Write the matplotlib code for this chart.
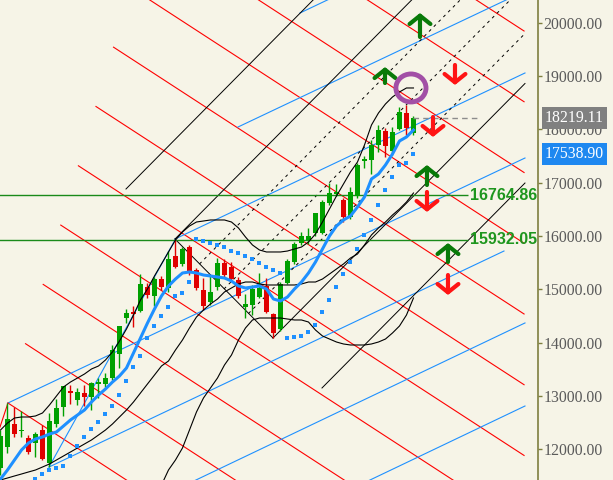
import numpy as np
import matplotlib
matplotlib.use('Agg')
import matplotlib.pyplot as plt
import matplotlib.transforms as mtransforms
from matplotlib.patches import Ellipse

plt.rcParams['font.family'] = ['Liberation Serif', 'DejaVu Serif']

# ---- daily candles ----
opens = [11651, 12044, 12476, 12344, 12213, 12119, 12363, 11744, 12476, 12794,
         13094, 12926, 13057, 12982, 13226, 13226, 13338, 13788, 14463, 14576,
         14594, 15044, 14876, 15194, 15026, 15626, 15476, 15794, 15363, 14988,
         14763, 15044, 15494, 15419, 15176, 14669, 14707, 14857, 15063, 14538,
         14257, 15119, 15513, 15869, 15926, 16057, 16057, 16619, 16788, 16676,
         16357, 16751, 17407, 17426, 17707, 17969, 17594, 18007, 18307, 17932]
highs = [12363, 12869, 12794, 12719, 12269, 12326, 12457, 12682, 12944, 13188,
         13207, 13151, 13207, 13263, 13338, 13432, 13957, 14313, 14630, 14688,
         15288, 15119, 15232, 15251, 15719, 15926, 15794, 15832, 15401, 15213,
         15269, 15588, 15569, 15513, 15232, 14913, 15082, 15307, 15213, 14557,
         15138, 15569, 15888, 16076, 16151, 16432, 16676, 16994, 16976, 16713,
         16919, 17369, 17501, 17801, 18082, 18026, 18044, 18419, 18457, 18251]
lows = [11519, 11932, 12232, 12232, 11913, 11857, 11801, 11669, 12419, 12626,
        12851, 12832, 12813, 12738, 12963, 13169, 13300, 13526, 14369, 14294,
        14576, 14838, 14688, 14988, 14951, 15401, 15438, 15269, 14988, 14613,
        14707, 14988, 15232, 15176, 14838, 14463, 14519, 14838, 14557, 14088,
        14219, 15101, 15476, 15832, 15851, 16001, 16038, 16582, 16751, 16263,
        16319, 16713, 17276, 17163, 17576, 17482, 17519, 17988, 17894, 17894]
closes = [12251, 12569, 12288, 12363, 11951, 12288, 11819, 12532, 12776, 13188,
          13057, 13076, 12982, 13244, 13263, 13338, 13863, 14313, 14557, 14538,
          15101, 14894, 15194, 15044, 15569, 15419, 15757, 15307, 15026, 14688,
          14951, 15494, 15269, 15194, 14876, 14726, 15007, 15026, 14576, 14182,
          15101, 15532, 15851, 16001, 16001, 16432, 16638, 16807, 16826, 16357,
          16826, 17332, 17444, 17707, 17988, 17688, 17951, 18326, 18026, 18219.11]

# fast moving average (thick blue)
ma_fast = [11444, 11613, 11801, 11988, 12119, 12194, 12232, 12288, 12326, 12438,
           12551, 12644, 12738, 12888, 13019, 13132, 13263, 13376, 13526, 13807,
           14088, 14369, 14632, 14876, 15063, 15194, 15307, 15326, 15307, 15269,
           15251, 15232, 15213, 15157, 15063, 15026, 15044, 15063, 15007, 14819,
           14782, 14857, 15007, 15138, 15307, 15513, 15757, 16001, 16188, 16301,
           16376, 16544, 16732, 17070, 17163, 17332, 17538, 17782, 17857, 17988]

# parabolic SAR dots
sar = [np.nan] * 5 + [
    11444, 11538, 11613, 11650, 11688, 11876, 12063, 12232, 12382, 12513,
    12663, 12813, 13019, 13282, 13544, 13751, 14088, 14313, 14501, 14669,
    14876, 14932, 15138,
    15944, 15907, 15869, 15832, 15794, 15719, 15682, 15626, 15569, 15494,
    15419, 15363, 15307,
    14088, 14107, 14126, 14201, 14332, 14576, 14801, 15044, 15288, 15513,
    15757, 16020, 16301, 16582, 16863, 17107, 17332, 17369, 17538.9]

# bollinger bands
bb_up = [12363, 12494, 12588, 12607, 12607, 12626, 12682, 12832, 13001, 13169,
         13263, 13338, 13413, 13507, 13563, 13676, 13826, 14032, 14257, 14519,
         14801, 15007, 15251, 15476, 15701, 15926, 16076, 16188, 16263, 16282,
         16301, 16301, 16301, 16263, 16151, 15982, 15832, 15738, 15701, 15701,
         15701, 15719, 15757, 15794, 15888, 16038, 16263, 16507, 16751, 16976,
         17201, 17388, 17707, 18082, 18307, 18476, 18607, 18701, 18776, 18776]
bb_mid = [11426, 11463, 11501, 11538, 11576, 11613, 11669, 11726, 11801, 11876,
          11951, 12026, 12101, 12176, 12269, 12363, 12476, 12607, 12738, 12888,
          13057, 13226, 13394, 13563, 13657, 13863, 14051, 14276, 14482, 14613,
          14726, 14819, 14951, 15026, 15101, 15138, 15138, 15101, 15082, 15082,
          15082, 15082, 15082, 15101, 15138, 15138, 15194, 15288, 15382, 15476,
          15588, 15663, 15832, 16020, 16151, 16263, 16394, 16507, 16638, 16807]
bb_low = [np.nan] * 22 + [
    11050, 11332, 11613, 11801, 12026, 12363, 12701, 12963, 13151, 13338,
    13582, 13769, 14051, 14276, 14426, 14463, 14463, 14463, 14463, 14444,
    14426, 14426, 14388, 14238, 14126, 14069, 14013, 13976, 13957, 13957,
    13957, 13976, 14013, 14069, 14182, 14313, 14519, 14838]

# red grid (falling lines)
red_start_bar = [1.07, 3.58, 6.10, 8.61, 11.13, 13.64, 16.15, 18.67, 21.18, 23.70, 26.21]
red_start_price = [12869, 13981, 15093, 16205, 17317, 18429, 19541, 20653, 21765, 22877, 23989]
red_end_bar = 74.8
red_end_price = [6580, 7906, 9233, 10559, 11886, 13212, 14538, 15865, 17191, 18518, 19844]

# blue grid (rising lines)
blue_b0 = [-10.93, -2.0, 6.93, 1.07, 24.93, 33.93, 42.79]
blue_p0 = [7432, 9551, 11669, 12869, 15944, 18044, 20182]
blue_b1 = [74.93, 74.93, 71.93, 74.93, 74.93, 74.93, 74.93]
blue_p1 = [12813, 14370, 15719, 17463, 19057, 20594, 22188]

# black channel lines (solid) and dashed inner lines
black_b0 = [17.93, 24.93, 38.93, 45.93]
black_p0 = [16882, 15944, 14088, 13151]
black_p1 = [24438, 22572, 18860, 16994]
dash_b0 = [28.43, 31.93, 35.43]
dash_p0 = [15476, 15007, 14547]
dash_p1 = [21657, 20707, 19797]
channel_end_bar = 74.93

# zigzag legs
zz_up_bar, zz_up_price = [6.93, 24.93], [11669, 15926]
zz_dn_bar, zz_dn_price = [24.93, 38.93], [15944, 14088]
zz_red_bar, zz_red_price = [-0.07, 1.07], [12419, 12869]

levels = [16764.86, 15932.05]
level_end_bar = 66.8
last_price = 18219.11
sar_last = 17538.90

# arrows: bar, base, tip
up_arrows = [(59.93, 19732, 20182), (54.93, 18869, 19169),
             (60.93, 16957, 17332), (63.93, 15513, 15869)]
down_arrows = [(64.93, 19207, 18832), (61.79, 18232, 17857),
               (60.93, 16826, 16451), (63.93, 15269, 14894)]

bg = '#f6f4e7'
fig = plt.figure(figsize=(6.13, 4.8), dpi=100, facecolor=bg)
ax = fig.add_axes([0, 0, 538 / 613, 1], facecolor=bg)
bars = np.arange(len(opens))

# grids
for sb, sp, ep in zip(red_start_bar, red_start_price, red_end_price):
    ax.plot([sb, red_end_bar], [sp, ep], color='#ff0000', lw=0.8, zorder=1)
for b0, p0, b1, p1 in zip(blue_b0, blue_p0, blue_b1, blue_p1):
    ax.plot([b0, b1], [p0, p1], color='#1e90ff', lw=0.8, zorder=1)
for b0, p0, p1 in zip(black_b0, black_p0, black_p1):
    ax.plot([b0, channel_end_bar], [p0, p1], color='black', lw=0.7, zorder=1)
for b0, p0, p1 in zip(dash_b0, dash_p0, dash_p1):
    ax.plot([b0, channel_end_bar], [p0, p1], color='black', lw=0.7,
            ls=(0, (3, 4)), zorder=1)

ax.plot(zz_up_bar, zz_up_price, color='#1e90ff', lw=0.8, zorder=1)
ax.plot(zz_dn_bar, zz_dn_price, color='black', lw=0.7, zorder=1)
ax.plot(zz_red_bar, zz_red_price, color='#ff0000', lw=0.8, zorder=1)

ax.hlines(levels, -1, level_end_bar, colors='#1a8a1a', lw=1, zorder=1)

# candles
o = np.array(opens); c = np.array(closes)
cols = np.where(c >= o, '#00a000', '#e00000')
ax.vlines(bars, lows, highs, colors=cols, lw=1, zorder=2)
ax.bar(bars, np.maximum(np.abs(c - o), 22), bottom=np.minimum(o, c),
       width=0.7, color=cols, linewidth=0, zorder=2.1)

# indicators
ax.plot(bars, bb_up, color='black', lw=0.8, zorder=3)
ax.plot(bars, bb_mid, color='black', lw=0.8, zorder=3)
ax.plot(bars, bb_low, color='black', lw=0.8, zorder=3)
ax.plot(bars, ma_fast, color='#1e90ff', lw=2.2, zorder=4)
ax.plot(bars, sar, ls='', marker='s', ms=2.2, mew=0, color='#1e90ff', zorder=4)

ax.plot([bars[-1], 68.5], [last_price, last_price], color='#8c8c8c', lw=1,
        ls=(0, (4, 3)), zorder=3)

for b, base, tip in up_arrows:
    ax.annotate('', xy=(b, tip), xytext=(b, base), zorder=5,
                arrowprops=dict(arrowstyle='->,head_length=0.6,head_width=0.75',
                                lw=3, color='#087a08', shrinkA=0, shrinkB=0))
for b, base, tip in down_arrows:
    ax.annotate('', xy=(b, tip), xytext=(b, base), zorder=5,
                arrowprops=dict(arrowstyle='->,head_length=0.6,head_width=0.75',
                                lw=3, color='#ff1414', shrinkA=0, shrinkB=0))

ax.add_patch(Ellipse((58.64, 18776), 4.3, 525, fill=False, lw=3.5,
                     ec='#a24fa6', zorder=5))

for lv in levels:
    ax.text(67.05, lv, f'{lv:.2f}', va='center', ha='left', color='#1e961e',
            fontsize=11.5, fontweight='bold', family='Liberation Sans', zorder=5)

ax.set_xlim(-0.07, 76.79)
ax.set_ylim(11425.6, 20425.6)
ax.set_xticks([])
ax.yaxis.tick_right()
ticks = np.arange(12000, 20001, 1000)
ax.set_yticks(ticks)
ax.set_yticklabels([f'{t:.2f}' for t in ticks])
ax.tick_params(axis='y', direction='out', length=2.9, width=1, color='#7f7f3f',
               pad=1, labelsize=11.3, labelcolor='#5a5a5a')
for s in ['top', 'left', 'bottom']:
    ax.spines[s].set_visible(False)
ax.spines['right'].set_color('#7f7f3f')
ax.spines['right'].set_linewidth(1.2)

trans = mtransforms.blended_transform_factory(ax.transAxes, ax.transData)
ax.text(545 / 538, last_price, f'{last_price:.2f}', transform=trans, va='center',
        ha='left', color='white', fontsize=11.3, clip_on=False, zorder=6,
        bbox=dict(boxstyle='square,pad=0.2', fc='#808080', ec='none'))
ax.text(545 / 538, sar_last, f'{sar_last:.2f}', transform=trans, va='center',
        ha='left', color='white', fontsize=11.3, clip_on=False, zorder=6,
        bbox=dict(boxstyle='square,pad=0.2', fc='#1e88f0', ec='none'))

fig.savefig('out.png', dpi=100, facecolor=bg)
